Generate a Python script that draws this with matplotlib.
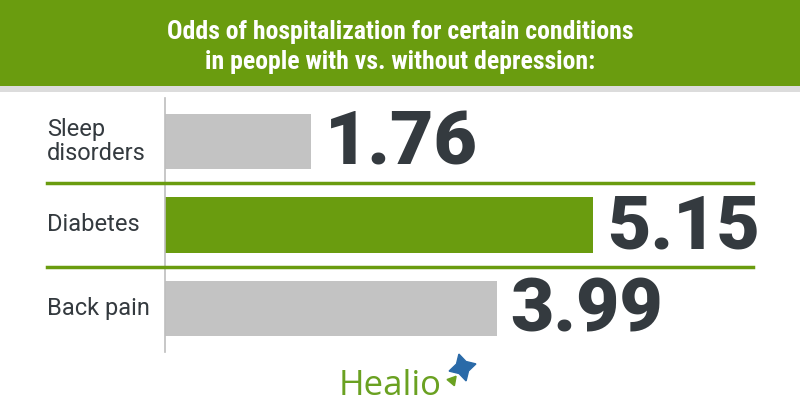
import matplotlib.pyplot as plt
from matplotlib.patches import Rectangle

# Data
categories = ["Sleep\ndisorders", "Diabetes", "Back pain"]
odds = [1.76, 5.15, 3.99]
bar_colors = ["#c3c3c3", "#6a9c0f", "#c3c3c3"]
title = "Odds of hospitalization for certain conditions\nin people with vs. without depression:"

green = "#6a9c0f"
dark = "#343a3f"
px_per_unit = 83.1

fig = plt.figure(figsize=(8, 4.2), dpi=100)
fig.patch.set_facecolor("white")

# header band
fig.patches.append(Rectangle((0, 1 - 86 / 420), 1, 86 / 420, transform=fig.transFigure,
                             facecolor=green, edgecolor="none", zorder=0))
fig.patches.append(Rectangle((0, 1 - 92 / 420), 1, 6 / 420, transform=fig.transFigure,
                             facecolor="#dcdcdc", edgecolor="none", zorder=0))
fig.text(0.5, 1 - 47 / 420, title, ha="center", va="center", color="white",
         fontsize=18.5, fontweight="bold", linespacing=1.35,
         family=["Liberation Sans Narrow", "Roboto Condensed", "Roboto"])

# chart area
ax = fig.add_axes([165 / 800, (420 - 352) / 420, 635 / 800, 254 / 420])
ax.set_xlim(0, 635 / px_per_unit)
ax.set_ylim(2.52, -0.52)
ypos = list(range(len(categories)))
ax.barh(ypos, odds, height=0.66, color=bar_colors, zorder=2)

for y, v in zip(ypos, odds):
    ax.text(v + 0.17, y + 0.03, f"{v:.2f}", va="center", ha="left", color=dark,
            fontsize=54, fontweight="black", family="Roboto")

for y, lab in zip(ypos, categories):
    ax.text(-1.42, y, lab, va="center", ha="left", color=dark, fontsize=17,
            family="Roboto", linespacing=1.1)

# separators
for y in [0.5, 1.5]:
    ax.plot([-1.42, 7.08], [y, y], color=green, lw=2.5, clip_on=False, zorder=3)

for s in ["top", "right", "bottom"]:
    ax.spines[s].set_visible(False)
ax.spines["left"].set_color("#bdbdbd")
ax.spines["left"].set_linewidth(1.2)
ax.set_xticks([])
ax.set_yticks([])
ax.patch.set_alpha(0)

# logo
fig.text(390 / 800, 1 - 386 / 420, "Healio", ha="center", va="center", color="#6aa121",
         fontsize=25, family="Open Sans")
fig.lines.append(plt.Line2D([462 / 800], [1 - 367 / 420], transform=fig.transFigure,
                            marker=(4, 1, 15), markersize=20, color="#2a6aa8", lw=0))
fig.lines.append(plt.Line2D([452 / 800], [1 - 380 / 420], transform=fig.transFigure,
                            marker=(3, 0, 200), markersize=8, color="#6aa121", lw=0))

fig.savefig("out.png", dpi=100)
